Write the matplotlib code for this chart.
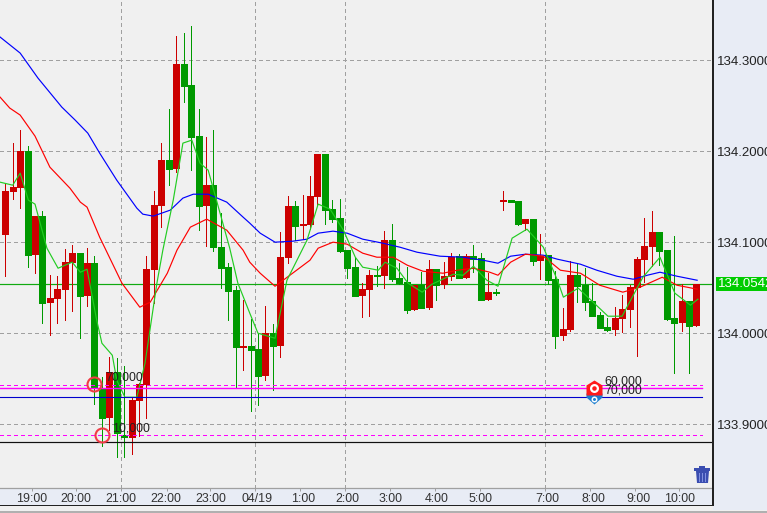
import numpy as np
import matplotlib
matplotlib.use("Agg")
import matplotlib.pyplot as plt
from matplotlib.patches import Rectangle, Polygon
from matplotlib.path import Path
from matplotlib.transforms import Affine2D, blended_transform_factory

# ---------- data (prices), bars -1..93 ----------
opens = [134.1758,134.1088,134.1560,134.1604,134.2000,134.0868,134.1286,134.0341,134.0385,134.0484,
 134.0780,134.0879,134.0418,134.0769,133.9396,133.9077,133.9571,133.8879,133.8857,133.9264,
 133.9440,134.0703,134.1407,134.1901,134.1813,134.2956,134.2725,134.2165,134.1407,134.1626,
 134.0945,134.0725,134.0473,133.9846,133.9857,133.9824,133.9538,134.0000,133.9868,134.0835,
 134.1396,134.1187,134.1198,134.1505,134.1967,134.1363,134.1264,134.0912,134.0725,134.0418,
 134.0484,134.0637,134.0637,134.1022,134.0604,134.0560,134.0264,134.0527,134.0286,134.0703,
 134.0538,134.0626,134.0846,134.0615,134.0846,134.0824,134.0374,134.0451,134.1456,134.1462,
 134.1451,134.1209,134.1253,134.0802,134.0857,134.0593,133.9978,134.0044,134.0637,134.0527,
 134.0352,134.0198,134.0066,134.0044,134.0165,134.0264,134.0505,134.0813,134.0956,134.1110,
 134.0912,134.0165,134.0121,134.0352,134.0088]
highs = [134.1758,134.1648,134.2088,134.2231,134.2055,134.1286,134.1341,134.0637,134.0626,134.0923,
 134.0967,134.0879,134.0934,134.0846,133.9516,133.9736,133.9725,133.9637,133.9286,133.9451,
 134.0846,134.1560,134.2088,134.2462,134.3264,134.3297,134.3374,134.2462,134.2154,134.2231,
 134.1319,134.0769,134.0516,134.0363,134.0154,134.0000,134.0297,134.0099,134.1110,134.1505,
 134.1451,134.1516,134.1725,134.1967,134.1967,134.1462,134.1473,134.0912,134.0835,134.0549,
 134.0692,134.0736,134.1121,134.1198,134.0769,134.0725,134.0527,134.0670,134.0802,134.0703,
 134.0780,134.0879,134.0868,134.0868,134.0967,134.0879,134.0659,134.0484,134.1560,134.1462,
 134.1451,134.1253,134.1253,134.1088,134.0857,134.0681,134.0275,134.0791,134.0758,134.0714,
 134.0549,134.0231,134.0165,134.0286,134.0418,134.0527,134.0835,134.1264,134.1341,134.1110,
 134.0912,134.1066,134.0538,134.0352,134.0538]
lows = [134.1077,134.0626,134.1473,134.1374,134.0725,134.0659,134.0110,133.9978,134.0110,134.0143,
 134.0242,133.9945,134.0297,133.9220,133.8758,133.8934,133.8637,133.8637,133.8670,133.8868,
 133.9066,134.0330,134.1165,134.1626,134.1769,134.2538,134.1791,134.1132,134.0956,134.0901,
 134.0495,134.0143,133.9396,133.9593,133.9143,133.9209,133.9484,133.9374,133.9736,134.0769,
 134.1022,134.1033,134.1143,134.1407,134.1198,134.1220,134.0890,134.0604,134.0407,134.0176,
 134.0187,134.0516,134.0495,134.0571,134.0538,134.0220,134.0253,134.0275,134.0264,134.0363,
 134.0495,134.0582,134.0604,134.0604,134.0670,134.0363,134.0363,134.0418,134.1352,134.1440,
 134.1187,134.1132,134.0747,134.0593,134.0538,133.9835,133.9923,134.0022,134.0341,134.0253,
 134.0187,134.0055,134.0022,133.9978,134.0011,134.0066,133.9747,134.0560,134.0736,134.0747,
 134.0143,133.9560,134.0022,133.9560,134.0077]
closes = [134.1077,134.1560,134.1604,134.2000,134.0857,134.1286,134.0330,134.0385,134.0484,134.0780,
 134.0879,134.0407,134.0769,133.9407,133.9066,133.9571,133.8901,133.8857,133.9264,133.9440,
 134.0703,134.1407,134.1901,134.1802,134.2956,134.2714,134.2154,134.1396,134.1626,134.0945,
 134.0714,134.0462,133.9846,133.9857,133.9813,133.9527,134.0000,133.9857,134.0835,134.1396,
 134.1176,134.1198,134.1505,134.1967,134.1352,134.1253,134.0901,134.0714,134.0407,134.0484,
 134.0637,134.0626,134.1022,134.0593,134.0549,134.0253,134.0527,134.0275,134.0703,134.0527,
 134.0626,134.0835,134.0604,134.0846,134.0813,134.0363,134.0451,134.0440,134.1462,134.1440,
 134.1198,134.1253,134.0791,134.0846,134.0582,133.9967,134.0044,134.0637,134.0516,134.0341,
 134.0187,134.0055,134.0033,134.0165,134.0264,134.0505,134.0813,134.0956,134.1110,134.0901,
 134.0154,134.0110,134.0352,134.0077,134.0538]

blue_pos = [-0.7,2.0,4.4,7.6,9.4,11.1,12.7,15.0,17.7,18.5,19.9,22.2,23.9,25.3,27.3,29.8,32.0,32.9,34.3,36.3,
 38.7,40.6,42.1,44.1,46.0,48.1,50.8,53.1,55.4,58.5,61.6,64.3,66.3,68.0,70.0,72.4,74.3,77.4,79.6,82.3,84.5,86.4,88.1,90.4,93.1]
blue_val = [134.3253,134.3077,134.2802,134.2484,134.2341,134.2198,134.1978,134.1681,134.1374,134.1308,134.1286,134.1352,
 134.1484,134.1527,134.1527,134.1440,134.1275,134.1209,134.1099,134.1000,134.1011,134.1033,134.1099,134.1121,134.1099,
 134.1033,134.0989,134.0945,134.0890,134.0846,134.0835,134.0802,134.0769,134.0846,134.0868,134.0857,134.0813,134.0758,
 134.0692,134.0626,134.0593,134.0637,134.0670,134.0626,134.0582]
red_pos = [-0.7,0.6,2.0,4.0,6.0,8.7,10.1,11.0,12.7,15.7,18.1,19.5,21.8,23.1,24.9,27.1,29.8,32.0,32.9,34.3,36.3,38.3,41.0,
 42.1,44.1,46.0,48.1,50.0,52.2,54.1,56.2,58.9,60.8,63.0,65.2,66.3,68.0,70.0,72.4,74.7,77.4,80.0,83.1,85.4,88.4,90.4,93.1]
red_val = [134.2593,134.2473,134.2396,134.2165,134.1824,134.1593,134.1440,134.1385,134.1055,134.0549,134.0286,134.0341,
 134.0659,134.0912,134.1165,134.1253,134.1132,134.0912,134.0780,134.0659,134.0516,134.0637,134.0802,134.0934,134.1000,
 134.0978,134.0879,134.0835,134.0835,134.0747,134.0681,134.0659,134.0692,134.0714,134.0670,134.0637,134.0780,134.0868,
 134.0846,134.0692,134.0659,134.0527,134.0451,134.0505,134.0615,134.0527,134.0484]
green_pos = [-0.7,1.0,2.0,3.1,4.0,5.6,7.1,9.0,10.1,11.0,12.3,13.0,14.4,15.0,16.1,17.7,18.8,20.4,21.2,22.6,23.9,25.1,26.2,
 27.3,28.9,30.2,31.3,32.9,34.0,36.3,37.9,40.6,42.1,43.7,45.5,47.1,48.1,50.2,51.1,52.7,54.2,56.1,57.4,60.3,61.6,63.0,64.8,
 66.3,68.2,70.2,72.4,74.3,75.1,77.1,79.1,81.1,83.0,85.8,88.1,90.1,92.2,93.2]
green_val = [134.1659,134.1626,134.1758,134.1462,134.1418,134.0934,134.0714,134.0780,134.0670,134.0703,134.0143,133.9890,
 133.9758,133.9484,133.9297,133.9297,133.9670,134.0549,134.0912,134.1462,134.2088,134.2121,134.1868,134.1791,134.1319,
 134.0934,134.0549,134.0220,134.0000,133.9945,134.0582,134.1022,134.1418,134.1363,134.1132,134.0835,134.0725,134.0692,
 134.0780,134.0714,134.0549,134.0451,134.0538,134.0648,134.0637,134.0736,134.0582,134.0516,134.1044,134.1143,134.0945,
 134.0582,134.0396,134.0495,134.0341,134.0187,134.0187,134.0615,134.0835,134.0440,134.0308,134.0374]

tick_labels = ["19:00","20:00","21:00","22:00","23:00","04/19","1:00","2:00","3:00","4:00","5:00","7:00","8:00","9:00","10:00"]
tick_pos = [3.63,9.56,15.6,21.7,27.6,33.6,39.7,45.7,51.8,57.8,63.9,72.6,78.7,84.7,90.7]
label_pos = [3.6,9.5,15.6,21.6,27.6,33.9,40.1,46.0,51.9,58.0,63.9,73.0,79.1,85.2,90.7]
grid_pos = [15.6,33.6,45.7,72.6]
price_ticks = [133.9,134.0,134.1,134.2,134.3]
current_price = 134.0542
pink_dash = [133.9434,133.8879]
pink_solid = 133.9396
navy_level = 133.9297
black_level = 133.8802
entries = [(12.0,133.9440,"70,000",13.4,133.9516),(13.0,133.8879,"10,000",14.35,133.8956)]
exits = [(80.6,133.9473,"60,000"),(80.6,133.9374,"70,000")]
pin_pos = 79.2
pin_red = 133.9396
pin_blue = 133.9308

# ---------- figure ----------
W, H = 767, 513
BG, PANEL = "#F0F0F0", "#E8ECF5"
RED, GREEN = "#CC0000", "#009900"
GRID = "#A0A0A0"
plt.rcParams["font.family"] = ["Liberation Sans", "DejaVu Sans"]
fig = plt.figure(figsize=(W/100, H/100), dpi=100, facecolor=BG)
px = Affine2D().scale(1, -1).translate(0, H)

fig.add_artist(Rectangle((713, 0), 54, 510, transform=px, fc=PANEL, ec="none", zorder=0))
fig.add_artist(Rectangle((0, 488), 713, 17, transform=px, fc=PANEL, ec="none", zorder=0))
fig.add_artist(Rectangle((0, 511), 767, 2, transform=px, fc="#B0B0B0", ec="none", zorder=0))

ax = fig.add_axes([0, (H-488)/H, 712/W, 488/H], facecolor=BG)
ax.set_xlim(-0.713, 95.1)
ax.set_ylim(133.830, 134.366)
ax.patch.set_zorder(0.5)
for s in ("top", "left", "right"):
    ax.spines[s].set_visible(False)
ax.spines["bottom"].set_color("#A0A0A0")
ax.spines["bottom"].set_linewidth(0.9)

P = 0.72  # one pixel in points
dash = (0, (4, 3))
ax.set_yticks(price_ticks)
ax.set_yticklabels([f"{p:.4f}" for p in price_ticks], fontsize=9.5, color="#222222")
ax.yaxis.tick_right()
ax.tick_params(axis="y", length=0, pad=3.6)
ax.set_xticks(tick_pos)
ax.set_xticklabels([])
ax.tick_params(axis="x", length=2, width=P, color="#A0A0A0")
ax.grid(True, axis="y", color=GRID, lw=P, ls=dash, zorder=1, antialiased=False)
ax.set_axisbelow(True)
ax.vlines(grid_pos, 133.83, 134.366, color=GRID, lw=P, ls=dash, zorder=1, antialiased=False)

label_tr = blended_transform_factory(ax.transData, ax.transAxes)
for t, lp in zip(tick_labels, label_pos):
    ax.text(lp, -11/488, t, transform=label_tr, ha="center", va="center",
            fontsize=8.9, color="#333333", clip_on=False)

ax.plot([-0.713, 95.0], [current_price]*2, color="#11AA11", lw=P*1.2, zorder=1.5)

# candles: constant-width strokes so every body is 7 px wide, every wick 1 px
idx = np.arange(-1, 94)
o, h, l, c = map(np.array, (opens, highs, lows, closes))
colors = list(np.where(c >= o, RED, GREEN))
ax.vlines(idx, l, h, colors=colors, lw=P, zorder=2, antialiased=False, capstyle="butt")
ax.vlines(idx, np.minimum(o, c), np.maximum(o, c), colors=colors, lw=7*P, zorder=2.1,
          antialiased=False, capstyle="butt")

# moving averages
MA_LW = 0.85
ax.plot(blue_pos, blue_val, color="#0000FF", lw=MA_LW, zorder=3)
ax.plot(red_pos, red_val, color="#FF0000", lw=MA_LW, zorder=3)
ax.plot(green_pos, green_val, color="#22CC22", lw=MA_LW, zorder=3)

# order lines
xend = 93.8
for lvl in pink_dash:
    ax.plot([-0.713, xend], [lvl, lvl], color="#FF00FF", lw=P, ls=dash, zorder=3.2, antialiased=False)
ax.plot([-0.713, xend], [pink_solid]*2, color="#FF00FF", lw=P*1.4, zorder=3.2)
ax.plot([-0.713, xend], [navy_level]*2, color="#0000CC", lw=P*1.1, zorder=3.2)
ax.plot([-0.713, 95.1], [black_level]*2, color="#111111", lw=P*1.2, zorder=3.2)

# entry circles + amounts
for xc, yc, txt, xt, yt in entries:
    ax.plot([xc], [yc], marker="o", ms=14*P, mfc="none", mec="#F03C46", mew=1.5, zorder=4)
    ax.text(xt, yt, txt, fontsize=8.9, color="#222222", ha="left", va="center", zorder=5)

# exit pins + amounts
ax.plot([pin_pos], [pin_blue], marker=Path([(-8,3),(8,3),(8,-1),(0,-8),(-8,-1),(-8,3)]),
        ms=16*P, color="#1E7FD0", mew=0, zorder=4)
ax.plot([pin_pos], [pin_blue-0.0025], marker="o", ms=6*P, color="white", mew=0, zorder=4.1)
ax.plot([pin_pos], [pin_blue-0.0025], marker="o", ms=3*P, color="#1E7FD0", mew=0, zorder=4.2)
ax.plot([pin_pos], [pin_red], marker=Path([(0,8),(8,3),(8,-7),(-8,-7),(-8,3),(0,8)]),
        ms=16*P, color="#FF1A1A", mew=0, zorder=4.3)
ax.plot([pin_pos], [pin_red+0.0005], marker="o", ms=9*P, color="white", mew=0, zorder=4.4)
ax.plot([pin_pos], [pin_red+0.0005], marker="o", ms=4.5*P, color="#FF1A1A", mew=0, zorder=4.5)
for xt, yt, txt in exits:
    ax.text(xt, yt, txt, fontsize=8.9, color="#222222", ha="left", va="center", zorder=5)

# frame lines
fig.add_artist(Rectangle((712, 0), 1.5, 505.5, transform=px, fc="#222222", ec="none", zorder=6))
fig.add_artist(Rectangle((0, 505), 713.5, 1.2, transform=px, fc="#222222", ec="none", zorder=6))

# current price tag
fig.add_artist(Rectangle((716, 277), 51, 14, transform=px, fc="#00CC00", ec="none", zorder=6))
fig.text(718/W, 1-284/H, f"{current_price:.4f}", fontsize=9.5, color="white", va="center", ha="left", zorder=7)

# trash icon
TR = "#3A4DB0"
fig.add_artist(Polygon([(696,471),(709,471),(708,483),(697,483)], transform=px, fc=TR, ec="none", zorder=6))
fig.add_artist(Rectangle((694, 468), 16, 3, transform=px, fc=TR, ec="none", zorder=6))
fig.add_artist(Rectangle((699, 466), 6, 2, transform=px, fc=TR, ec="none", zorder=6))
for xs in (699.5, 702.5, 705.5):
    fig.add_artist(Rectangle((xs-0.5, 473), 1, 9, transform=px, fc="#8090E0", ec="none", zorder=6.1))

fig.savefig("out.png", dpi=100, facecolor=BG)
